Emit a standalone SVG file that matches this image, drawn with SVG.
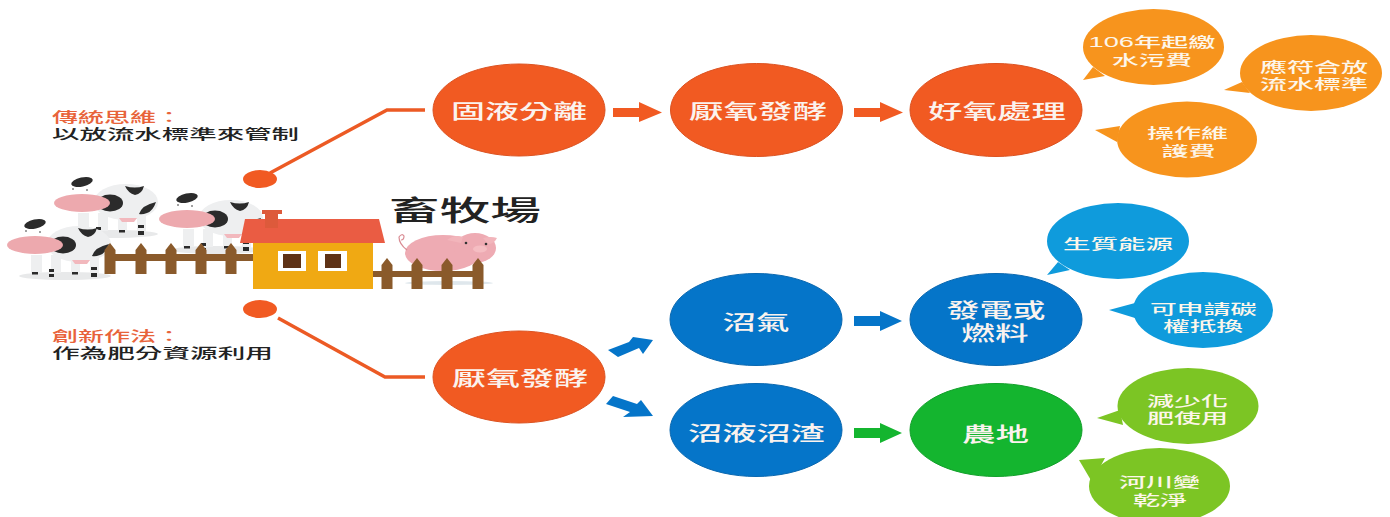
<svg xmlns="http://www.w3.org/2000/svg" width="1390" height="517" viewBox="0 0 1390 517">
<style>
text{font-family:"Liberation Sans","Noto Sans CJK TC","Noto Sans CJK SC",sans-serif;text-anchor:middle;font-weight:500}
.n{font-size:20px;fill:#fbf3ee}
.b{font-size:14px;fill:#fdf6ea}
.l{font-size:14px;text-anchor:start}
.or{fill:#f15a22}.bl{fill:#0575c9}.gr{fill:#14b52f}
.bo{fill:#f7941d}.bb{fill:#0f9bdc}.bg{fill:#7cc524}
.fence{fill:#8a5a2b}.spot{fill:#2b2b2b}.hide{fill:#eeeff0}
.edge-or{stroke:#dc5220;stroke-width:1}.edge-bl{stroke:#0a68b0;stroke-width:1}.edge-gr{stroke:#12a02a;stroke-width:1}
</style>
<defs>
<!-- cow drawn around the centre of its muzzle -->
<g id="cow">
<ellipse cx="30" cy="31" rx="46" ry="4" fill="#e8e9ea"/>
<rect x="-4" y="10" width="11" height="18" fill="#eeeff0"/><rect x="16" y="10" width="10" height="18" fill="#eeeff0"/>
<rect x="36" y="12" width="9" height="16" fill="#eeeff0"/><rect x="55" y="10" width="9" height="18" fill="#eeeff0"/>
<ellipse cx="44" cy="-1" rx="32" ry="18" class="hide"/>
<ellipse cx="0" cy="-21" rx="11" ry="4.500" class="spot" transform="rotate(-12 0 -21)"/>
<circle cx="-9" cy="-14" r="0.800" class="spot"/><circle cx="5" cy="-13" r="0.800" class="spot"/>
<path d="M43 -17q10 3 19 0q-2 8-9 9q-7-2-10-9z" class="spot"/>
<path d="M57 11q3-9 17-12q-3 9-9 11q-5 2-8 1z" class="spot"/>
<ellipse cx="28" cy="0" rx="13" ry="8.500" class="spot"/>
<ellipse cx="0" cy="0" rx="28" ry="9" fill="#eda9ae"/>
<path d="M37 15h18l-3 4h-12z" fill="#f2b8bd"/>
<rect x="-3" y="27" width="6" height="2.500" class="spot"/><rect x="14" y="24" width="5" height="3" class="spot"/><rect x="14" y="29" width="5" height="3" class="spot"/>
<rect x="37" y="27" width="6" height="2.500" class="spot"/><rect x="56" y="22" width="6" height="3" class="spot"/><rect x="56" y="28" width="6" height="4" class="spot"/>
</g>
<path id="post" d="M-5.500 31V7L0 0L5.500 7V31z" class="fence"/>
</defs>

<!-- connectors -->
<g id="connectors" fill="none">
<path d="M270 173L387 110H425" stroke="#ec5a24" stroke-width="3.500"/>
<path d="M278 318L385 377H425" stroke="#ec5a24" stroke-width="3.500"/>
<path class="or" d="M613 108H639V102L662 112.500L639 122V117H613z"/>
<path class="or" d="M854 108H880V102L903 112.500L880 122V117H854z"/>
<path class="bl" d="M608 350L629 342L633 337L653 340L643 354L639 348L618 357z"/>
<path class="bl" d="M606 404L613 396L637 404L641 400L653 416L623 417L630 412z"/>
<path class="bl" d="M854 316H880V311L902 321L880 331V326H854z"/>
<path class="gr" d="M854 428H880V423L902 433L880 443V438H854z"/>
</g>

<g id="farm">
<use href="#cow" x="82" y="203"/>
<use href="#cow" x="187" y="219"/>
<use href="#cow" x="35" y="245"/>
<g id="fence-left">
<rect x="105" y="254" width="150" height="7" class="fence"/>
<use href="#post" x="110" y="243"/>
<use href="#post" x="141" y="243"/>
<use href="#post" x="171" y="243"/>
<use href="#post" x="201" y="243"/>
<use href="#post" x="231" y="243"/>
</g>
<g id="pig">
<ellipse cx="449" cy="283" rx="44" ry="2" fill="#dfe7ec"/>
<ellipse cx="443" cy="253" rx="38" ry="18" fill="#eeabb3"/>
<ellipse cx="475" cy="248" rx="21" ry="15" fill="#eeabb3"/>
<path d="M447 240q8-6 16-3l-2 6zM483 238q8-2 14 0q-3 6-9 6z" fill="#f2b5bb"/>
<path d="M407 250q-8-6-8-13q3-4 5-1q0 4-3 4" fill="none" stroke="#d98b93" stroke-width="1.200"/>
<ellipse cx="480" cy="249" rx="7" ry="3.500" fill="#f5bdc2"/>
<circle cx="466" cy="243" r="1.300" fill="#333"/><circle cx="486" cy="244" r="1.300" fill="#333"/>
</g>
<g id="fence-right">
<rect x="373" y="271" width="110" height="6" class="fence"/>
<use href="#post" x="387" y="258"/>
<use href="#post" x="417" y="258"/>
<use href="#post" x="447" y="258"/>
<use href="#post" x="478" y="258"/>
</g>
<g id="house">
<rect x="253" y="243" width="120" height="46" fill="#f0a913"/>
<path d="M245 219H379L385 243H240z" fill="#ea5c43"/>
<rect x="265" y="213" width="13" height="15" fill="#dd5a3b"/>
<rect x="262" y="210" width="20" height="4" fill="#dd5a3b"/>
<rect x="278" y="251" width="28" height="20" fill="#fff"/><rect x="283" y="254" width="18" height="14" fill="#5f3216"/>
<rect x="318" y="251" width="29" height="20" fill="#fff"/><rect x="325" y="254" width="16" height="14" fill="#5f3216"/>
</g>
<ellipse cx="260" cy="179" rx="17" ry="9" class="or"/>
<ellipse cx="260" cy="309" rx="17" ry="9" class="or"/>
</g>

<g id="farm-title"><text x="465" y="221" font-size="28" textLength="152" lengthAdjust="spacingAndGlyphs" fill="#222">畜牧場</text></g>
<g id="traditional-note">
<text class="l" x="52" y="122" fill="#e8633a" textLength="130" lengthAdjust="spacingAndGlyphs">傳統思維：</text>
<text class="l" x="52" y="139" fill="#222" textLength="247" lengthAdjust="spacingAndGlyphs">以放流水標準來管制</text>
</g>
<g id="innovative-note">
<text class="l" x="52" y="341" fill="#e8633a" textLength="130" lengthAdjust="spacingAndGlyphs">創新作法：</text>
<text class="l" x="52" y="358" fill="#222" textLength="221" lengthAdjust="spacingAndGlyphs">作為肥分資源利用</text>
</g>

<g id="node-separation"><ellipse class="or edge-or" cx="519" cy="110" rx="86" ry="46"/><text class="n" x="519" y="119" textLength="136" lengthAdjust="spacingAndGlyphs">固液分離</text></g>
<g id="node-anaerobic-top"><ellipse class="or edge-or" cx="756.500" cy="110" rx="86" ry="46.500"/><text class="n" x="758" y="119" textLength="138" lengthAdjust="spacingAndGlyphs">厭氧發酵</text></g>
<g id="node-aerobic"><ellipse class="or edge-or" cx="996" cy="110" rx="86" ry="46.500"/><text class="n" x="997" y="119" textLength="138" lengthAdjust="spacingAndGlyphs">好氧處理</text></g>
<g id="node-anaerobic-low"><ellipse class="or edge-or" cx="519" cy="377" rx="86" ry="46"/><text class="n" x="520" y="386" textLength="136" lengthAdjust="spacingAndGlyphs">厭氧發酵</text></g>
<g id="node-biogas"><ellipse class="bl edge-bl" cx="756" cy="319.500" rx="86" ry="46"/><text class="n" x="756" y="330" textLength="67" lengthAdjust="spacingAndGlyphs">沼氣</text></g>
<g id="node-power"><ellipse class="bl edge-bl" cx="996" cy="319.500" rx="86" ry="46"/><text class="n" x="996" y="318" textLength="99" lengthAdjust="spacingAndGlyphs">發電或</text><text class="n" x="995" y="341" textLength="67" lengthAdjust="spacingAndGlyphs">燃料</text></g>
<g id="node-digestate"><ellipse class="bl edge-bl" cx="756" cy="430" rx="86" ry="46.500"/><text class="n" x="756.500" y="441" textLength="137" lengthAdjust="spacingAndGlyphs">沼液沼渣</text></g>
<g id="node-farmland"><ellipse class="gr edge-gr" cx="996" cy="430" rx="86" ry="46.500"/><text class="n" x="995.500" y="442" textLength="67" lengthAdjust="spacingAndGlyphs">農地</text></g>

<g id="bubble-fee"><path class="bo" d="M1083 80L1093 67L1105 76z"/><ellipse class="bo" cx="1153.500" cy="47" rx="70.500" ry="38"/><text class="b" x="1152" y="47" textLength="127" lengthAdjust="spacingAndGlyphs">106年起繳</text><text class="b" x="1152" y="65" textLength="80" lengthAdjust="spacingAndGlyphs">水污費</text></g>
<g id="bubble-standard"><path class="bo" d="M1224 90L1242 82L1250 93z"/><ellipse class="bo" cx="1311" cy="73" rx="71" ry="38"/><text class="b" x="1314" y="72" textLength="108" lengthAdjust="spacingAndGlyphs">應符合放</text><text class="b" x="1314" y="89" textLength="108" lengthAdjust="spacingAndGlyphs">流水標準</text></g>
<g id="bubble-maintenance"><path class="bo" d="M1095 130L1120 126L1117 142z"/><ellipse class="bo" cx="1187" cy="139.500" rx="70" ry="38"/><text class="b" x="1187.500" y="138" textLength="81" lengthAdjust="spacingAndGlyphs">操作維</text><text class="b" x="1188.500" y="156" textLength="54" lengthAdjust="spacingAndGlyphs">護費</text></g>
<g id="bubble-bioenergy"><path class="bb" d="M1047 275L1058 262L1070 270z"/><ellipse class="bb" cx="1118" cy="241" rx="71" ry="38"/><text class="b" x="1118" y="249" textLength="110" lengthAdjust="spacingAndGlyphs">生質能源</text></g>
<g id="bubble-carbon"><path class="bb" d="M1109 310L1135 303L1135 318z"/><ellipse class="bb" cx="1203" cy="310" rx="70" ry="38"/><text class="b" x="1203.500" y="314" textLength="107" lengthAdjust="spacingAndGlyphs">可申請碳</text><text class="b" x="1203" y="331" textLength="80" lengthAdjust="spacingAndGlyphs">權抵換</text></g>
<g id="bubble-fertilizer"><path class="bg" d="M1097 418L1120 410L1123 425z"/><ellipse class="bg" cx="1188" cy="406" rx="70.500" ry="38"/><text class="b" x="1187.500" y="406" textLength="81" lengthAdjust="spacingAndGlyphs">減少化</text><text class="b" x="1187.500" y="423" textLength="81" lengthAdjust="spacingAndGlyphs">肥使用</text></g>
<g id="bubble-river"><path class="bg" d="M1079 460L1105 458L1092 482z"/><ellipse class="bg" cx="1159.500" cy="486" rx="70.500" ry="38"/><text class="b" x="1159.500" y="487" textLength="81" lengthAdjust="spacingAndGlyphs">河川變</text><text class="b" x="1160" y="505" textLength="54" lengthAdjust="spacingAndGlyphs">乾淨</text></g>
</svg>
